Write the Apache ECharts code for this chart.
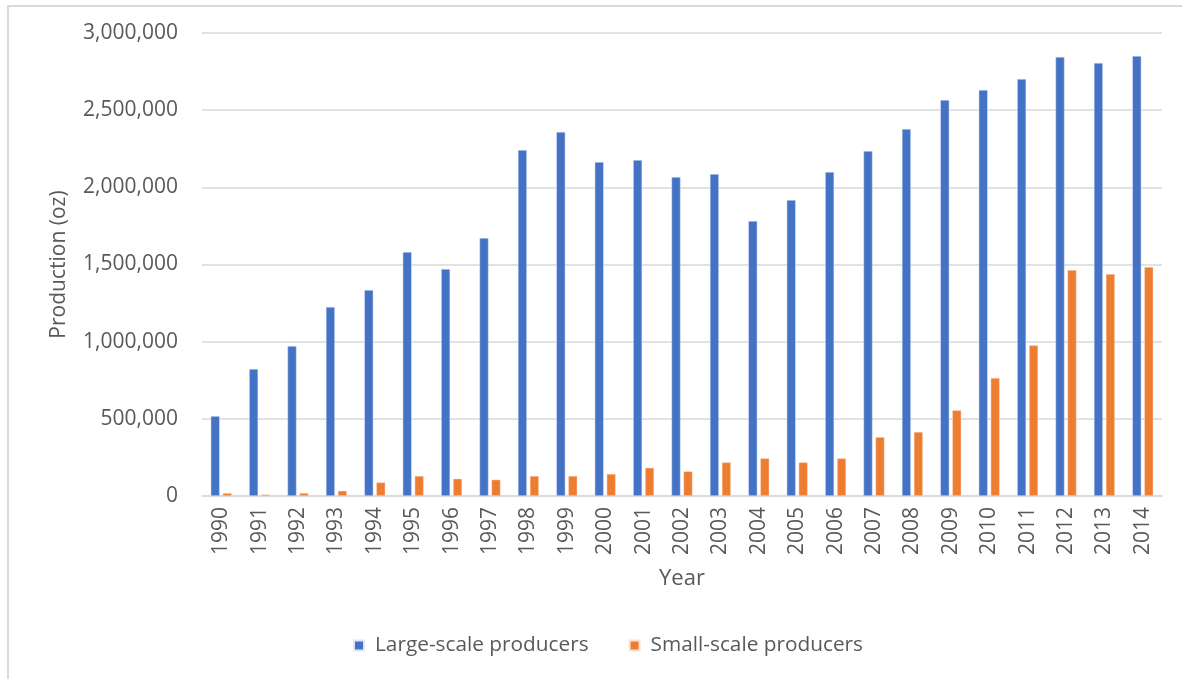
<!DOCTYPE html>
<html>
<head>
<meta charset="utf-8">
<script src="https://cdn.jsdelivr.net/npm/echarts@6/dist/echarts.min.js"></script>
<style>
  html, body { margin: 0; padding: 0; background: #fff; }
  #frame {
    position: absolute; left: 7px; top: 5px; width: 1200px; height: 700px;
    border-left: 2px solid #d9d9d9; border-top: 2px solid #d9d9d9;
  }
  #chart { position: absolute; left: 0; top: 0; width: 1182px; height: 679px; }
</style>
</head>
<body>
<div id="frame"></div>
<div id="chart"></div>
<script>
// years on the x axis
var years = ['1990', '1991', '1992', '1993', '1994', '1995', '1996', '1997', '1998', '1999',
  '2000', '2001', '2002', '2003', '2004', '2005', '2006', '2007', '2008', '2009',
  '2010', '2011', '2012', '2013', '2014'];

// production in oz
var largeScale = [518000, 823000, 972000, 1225000, 1335000, 1581000, 1471000, 1672000, 2242000, 2359000,
  2164000, 2177000, 2067000, 2086000, 1782000, 1918000, 2099000, 2235000, 2378000, 2566000,
  2631000, 2702000, 2845000, 2806000, 2851000];
var smallScale = [19000, 10000, 19000, 34000, 88000, 130000, 112000, 106000, 130000, 130000,
  143000, 183000, 160000, 218000, 244000, 218000, 244000, 382000, 415000, 555000,
  765000, 976000, 1464000, 1438000, 1484000];

var seriesNames = ['Large-scale producers', 'Small-scale producers'];

var font = 'Open Sans';
var grey = '#595959';

var chart = echarts.init(document.getElementById('chart'));
chart.setOption({
  animation: false,
  textStyle: { fontFamily: font },
  grid: { left: 202, right: 20, top: 33, bottom: 183 },
  legend: {
    data: seriesNames,
    bottom: 18,
    left: 348,
    itemWidth: 10,
    itemHeight: 10,
    itemGap: 40,
    icon: 'rect',
    textStyle: { fontSize: 20.8, color: grey, fontFamily: font, padding: [0, 0, 0, 6] }
  },
  xAxis: {
    type: 'category',
    data: years,
    name: 'Year',
    nameLocation: 'middle',
    nameGap: 72,
    nameTextStyle: { fontSize: 22, color: grey },
    axisLine: { lineStyle: { color: '#d9d9d9', width: 1.5 } },
    axisTick: { show: false },
    axisLabel: { rotate: 90, fontSize: 21, color: grey, margin: 11 }
  },
  yAxis: {
    type: 'value',
    min: 0,
    max: 3000000,
    interval: 500000,
    name: 'Production (oz)',
    nameLocation: 'middle',
    nameGap: 132,
    nameTextStyle: { fontSize: 21, color: grey },
    axisLine: { show: false },
    axisTick: { show: false },
    splitLine: { lineStyle: { color: '#d9d9d9', width: 1.5 } },
    axisLabel: {
      fontSize: 21, color: grey, margin: 24,
      formatter: function (v) { return v.toLocaleString('en-US'); }
    }
  },
  series: [
    {
      name: seriesNames[0],
      type: 'bar',
      data: largeScale,
      barWidth: 9,
      barGap: '33%',
      itemStyle: { color: '#4472C4', borderColor: '#dfe6f5', borderWidth: 0.5 }
    },
    {
      name: seriesNames[1],
      type: 'bar',
      data: smallScale,
      barWidth: 9,
      itemStyle: { color: '#ED7D31', borderColor: '#fbe2d1', borderWidth: 0.5 }
    }
  ]
});
</script>
</body>
</html>
